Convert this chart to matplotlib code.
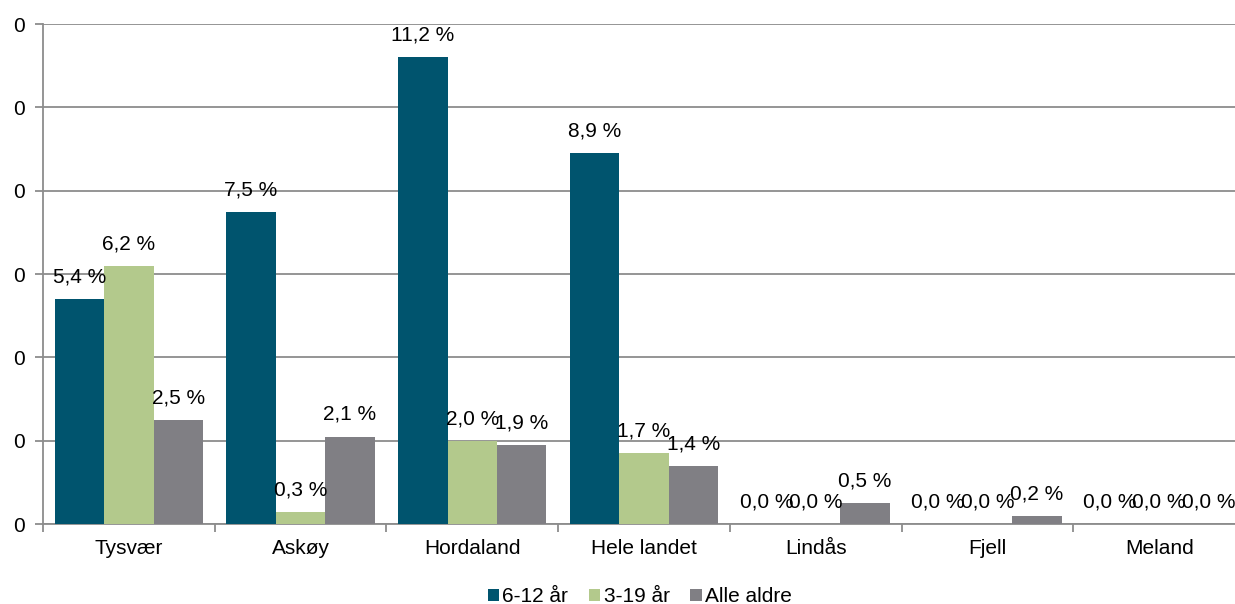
import numpy as np
import matplotlib.pyplot as plt
from matplotlib.ticker import FuncFormatter, FixedLocator

plt.rcParams['font.family'] = ['Liberation Sans', 'DejaVu Sans']

categories = ['Tysvær', 'Askøy', 'Hordaland', 'Hele landet', 'Lindås', 'Fjell', 'Meland']
series_names = ['6-12 år', '3-19 år', 'Alle aldre']
age_6_12 = [0.054, 0.075, 0.112, 0.089, 0.0, 0.0, 0.0]
age_3_19 = [0.062, 0.003, 0.020, 0.017, 0.0, 0.0, 0.0]
all_ages = [0.025, 0.021, 0.019, 0.014, 0.005, 0.002, 0.0]
colors = ['#00546E', '#B3C98C', '#807F84']

fig = plt.figure(figsize=(12.35, 6.04), dpi=100)
ax = fig.add_axes([43 / 1235, 1 - 524 / 604, 1202 / 1235, 500 / 604])

x = np.arange(len(categories))
width = 0.288
for i, (vals, name, col) in enumerate(zip([age_6_12, age_3_19, all_ages], series_names, colors)):
    pos = x + (i - 1) * width
    ax.bar(pos, vals, width=width, color=col, label=name, zorder=3)
    for px, v in zip(pos, vals):
        ax.annotate(f"{v * 100:.1f} %".replace('.', ','), (px, v), xytext=(0, 9),
                    textcoords='offset points', ha='center', va='bottom', fontsize=15, zorder=4)

ax.set_xlim(-0.5, len(categories) - 0.5)
ax.set_ylim(0, 0.12)
ax.yaxis.set_major_locator(FixedLocator(np.arange(0, 0.121, 0.02)))
ax.yaxis.set_major_formatter(FuncFormatter(lambda v, p: f"{v:.0f}"))
ax.grid(axis='y', color='#8C8C8C', linewidth=1.3, zorder=0)

ax.set_xticks(x)
ax.set_xticklabels(categories)
ax.set_xticks(np.arange(-0.5, len(categories)), minor=True)
ax.tick_params(axis='x', which='major', length=0, pad=11, labelsize=15)
ax.tick_params(axis='x', which='minor', length=6, color='#8C8C8C', width=1.3)
ax.tick_params(axis='y', length=6, color='#8C8C8C', width=1.3, labelsize=15, pad=7)

for s in ['top', 'right']:
    ax.spines[s].set_visible(False)
for s in ['left', 'bottom']:
    ax.spines[s].set_color('#8C8C8C')
    ax.spines[s].set_linewidth(1.3)

fig.legend(loc='lower center', bbox_to_anchor=(0.518, -0.035), ncol=3, frameon=False,
           fontsize=15, handlelength=0.55, handleheight=0.55, handletextpad=0.15, columnspacing=1.0)

fig.savefig('out.png', dpi=100)
